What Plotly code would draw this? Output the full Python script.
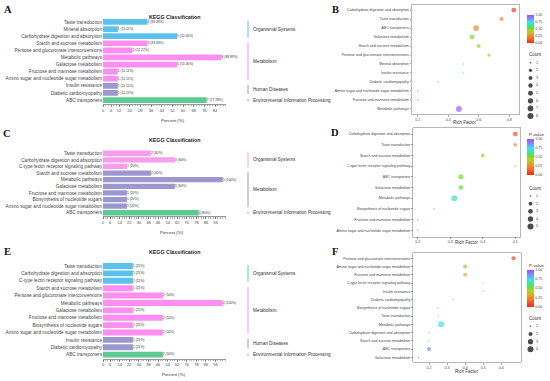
import plotly.graph_objects as go

ORG = "Organismal Systems"
MET = "Metabolism"
HUM = "Human Diseases"
ENV = "Environmental Information Processing"

# ---------------- Panel A (bar) ----------------
A_terms = ["Taste transduction", "Mineral absorption", "Carbohydrate digestion and absorption",
           "Starch and sucrose metabolism", "Pentose and glucuronate interconversions",
           "Metabolic pathways", "Galactose metabolism", "Fructose and mannose metabolism",
           "Amino sugar and nucleotide sugar metabolism", "Insulin resistance",
           "Diabetic cardiomyopathy", "ABC transporters"]
A_counts = [3, 1, 5, 3, 2, 8, 5, 1, 1, 1, 1, 7]
A_groups = [ORG, ORG, ORG, MET, MET, MET, MET, MET, MET, HUM, HUM, ENV]
A_total = 9
A_ticks = [0, 6, 12, 20, 28, 36, 44, 52, 60, 68, 76, 84]

# ---------------- Panel C (bar) ----------------
C_terms = ["Taste transduction", "Carbohydrate digestion and absorption",
           "C-type lectin receptor signaling pathway", "Starch and sucrose metabolism",
           "Metabolic pathways", "Galactose metabolism", "Fructose and mannose metabolism",
           "Biosynthesis of nucleotide sugars", "Amino sugar and nucleotide sugar metabolism",
           "ABC transporters"]
C_counts = [2, 3, 1, 2, 5, 3, 1, 1, 1, 4]
C_groups = [ORG, ORG, ORG, MET, MET, MET, MET, MET, MET, ENV]
C_total = 5
C_ticks = [0, 6, 14, 22, 30, 38, 46, 54, 62, 70, 78, 86, 94]

# ---------------- Panel E (bar) ----------------
E_terms = ["Taste transduction", "Carbohydrate digestion and absorption",
           "C-type lectin receptor signaling pathway", "Starch and sucrose metabolism",
           "Pentose and glucuronate interconversions", "Metabolic pathways",
           "Galactose metabolism", "Fructose and mannose metabolism",
           "Biosynthesis of nucleotide sugars", "Amino sugar and nucleotide sugar metabolism",
           "Insulin resistance", "Diabetic cardiomyopathy", "ABC transporters"]
E_counts = [1, 1, 1, 1, 2, 4, 1, 2, 1, 2, 1, 1, 2]
E_groups = [ORG, ORG, ORG, MET, MET, MET, MET, MET, MET, MET, HUM, HUM, ENV]
E_total = 4
E_ticks = [0, 6, 14, 22, 30, 38, 46, 54, 62, 70, 78, 86, 94]

# ---------------- Panel B (bubble) ----------------
B_terms = ["Carbohydrate digestion and absorption", "Taste transduction", "ABC transporters",
           "Galactose metabolism", "Starch and sucrose metabolism",
           "Pentose and glucuronate interconversions", "Mineral absorption", "Insulin resistance",
           "Diabetic cardiomyopathy", "Amino sugar and nucleotide sugar metabolism",
           "Fructose and mannose metabolism", "Metabolic pathways"]
B_rich = [0.83, 0.75, 0.583, 0.556, 0.60, 0.667, 0.50, 0.50, 0.333, 0.20, 0.20, 0.47]
B_count = [5, 3, 7, 5, 3, 2, 1, 1, 1, 1, 1, 8]
B_pvalue = [0.05, 0.24, 0.25, 0.50, 0.48, 0.44, 0.76, 0.76, 0.86, 0.97, 0.97, 0.96]
B_xticks = [0.2, 0.4, 0.6, 0.8]

# ---------------- Panel D (bubble) ----------------
D_terms = ["Carbohydrate digestion and absorption", "Taste transduction",
           "Starch and sucrose metabolism", "C-type lectin receptor signaling pathway",
           "ABC transporters", "Galactose metabolism", "Metabolic pathways",
           "Biosynthesis of nucleotide sugars", "Fructose and mannose metabolism",
           "Amino sugar and nucleotide sugar metabolism"]
D_rich = [0.5, 0.5, 0.4, 0.5, 0.333, 0.333, 0.3125, 0.25, 0.2, 0.2]
D_count = [3, 2, 2, 1, 4, 3, 5, 1, 1, 1]
D_pvalue = [0.10, 0.27, 0.46, 0.42, 0.51, 0.52, 0.67, 0.74, 0.80, 0.80]
D_xticks = [0.2, 0.3, 0.4, 0.5]

# ---------------- Panel F (bubble) ----------------
F_terms = ["Pentose and glucuronate interconversions", "Amino sugar and nucleotide sugar metabolism",
           "Fructose and mannose metabolism", "C-type lectin receptor signaling pathway",
           "Insulin resistance", "Diabetic cardiomyopathy", "Biosynthesis of nucleotide sugars",
           "Taste transduction", "Metabolic pathways", "Carbohydrate digestion and absorption",
           "Starch and sucrose metabolism", "ABC transporters", "Galactose metabolism"]
F_rich = [0.667, 0.4, 0.4, 0.5, 0.5, 0.333, 0.25, 0.25, 0.267, 0.2, 0.2, 0.2, 0.143]
F_count = [2, 2, 2, 1, 1, 1, 1, 1, 4, 1, 1, 2, 1]
F_pvalue = [0.05, 0.36, 0.36, 0.42, 0.42, 0.52, 0.65, 0.70, 0.74, 0.78, 0.77, 0.86, 0.91]
F_xticks = [0.2, 0.3, 0.4, 0.5, 0.6]

PV_ticks = [0.0, 0.25, 0.5, 0.75, 1.0]

# ---------------- styling ----------------
COL4 = {ORG: "#5BC2EE", MET: "#FF8EF2", HUM: "#9C98CF", ENV: "#5CCB92"}
COL3 = {ORG: "#F99CF0", MET: "#9C98CF", ENV: "#5CCB92"}
CS = [[0.0, "#F2291C"], [0.2, "#F07A2E"], [0.35, "#D8B22C"], [0.45, "#A8D62E"],
      [0.52, "#6ADE38"], [0.64, "#45E0A4"], [0.75, "#3EDFF0"], [0.87, "#7C8EF6"],
      [1.0, "#AA4EF6"]]
TXT = "#444444"

W, H = 550, 381


def fx(px):
    return px / W


def fy(py):
    return 1 - py / H


def axkey(i, a):
    return f"{a}axis" if i == 1 else f"{a}axis{i}"


def axref(i, a):
    return a if i == 1 else f"{a}{i}"


def fmt_pct(p):
    s = f"{p:.2f}".rstrip("0").rstrip(".")
    return s


fig = go.Figure()
layout = {}
shapes = []
annotations = []


def ann(text, x, y, size, color=TXT, xanchor="center", family=None, xref="paper", yref="paper"):
    d = dict(text=text, x=x, y=y, xref=xref, yref=yref, showarrow=False,
             xanchor=xanchor, yanchor="middle", font=dict(size=size, color=color))
    if family:
        d["font"]["family"] = family
    annotations.append(d)


def add_bar_panel(i, terms, counts, groups, total, colors, ticks, geo):
    n = len(terms)
    ys = list(range(n))
    pct = [c / total * 100 for c in counts]
    labels = [f"{c} ({fmt_pct(p)}%)" for c, p in zip(counts, pct)]
    xr, yr = axref(i, "x"), axref(i, "y")
    fig.add_trace(go.Bar(x=pct, y=ys, orientation="h", width=0.8,
                         marker=dict(color=[colors[g] for g in groups], line=dict(width=0)),
                         xaxis=xr, yaxis=yr, hoverinfo="skip"))
    fig.add_trace(go.Scatter(x=pct, y=ys, mode="text", text=labels, textposition="middle right",
                             textfont=dict(size=3.3, color="#333"), xaxis=xr, yaxis=yr,
                             cliponaxis=False, hoverinfo="skip"))
    layout[axkey(i, "x")] = dict(
        domain=[fx(geo["x0"]), fx(geo["x1"])], range=[0, geo["xmax"]],
        tickmode="array", tickvals=ticks, ticks="outside", ticklen=2, tickwidth=0.5,
        tickcolor="#333", showline=True, linecolor="#333", linewidth=0.5, showgrid=False,
        zeroline=False, tickfont=dict(size=4, color=TXT), anchor=yr, fixedrange=True,
        minor=dict(dtick=2, tick0=0, ticks="outside", ticklen=1.3, tickwidth=0.4,
                   tickcolor="#333", showgrid=False))
    layout[axkey(i, "y")] = dict(
        domain=[fy(geo["bot"]), fy(geo["top"])], range=[n - 1 + 0.6, -0.6],
        tickmode="array", tickvals=ys, ticktext=terms, showgrid=False, zeroline=False,
        showline=False, ticks="", tickfont=dict(size=4.7, color=TXT), anchor=xr,
        fixedrange=True)
    # group brackets
    start = 0
    for k in range(1, n + 1):
        if k == n or groups[k] != groups[start]:
            g = groups[start]
            a, b = start, k - 1
            shapes.append(dict(type="line", xref="paper", yref=yr, x0=fx(248), x1=fx(248),
                               y0=a - 0.15, y1=b + 0.15, line=dict(color=colors[g], width=1)))
            ann(g, fx(250.5), (a + b) / 2, 4.6, color="#333", xanchor="left", yref=yr)
            start = k
    ann("<b>KEGG Classification</b>", fx(175), fy(geo["title_y"]), 5.3, color="#222")
    ann("Percent (%)", fx(geo["xlab_x"]), fy(geo["xlab_y"]), 4.4, color="#333")


def size_of(c, cmax):
    return 1.6 + 4.4 * ((c - 1) / (cmax - 1)) ** 0.5


LEG = 7  # overlay axis index for legend keys


def add_bubble_panel(i, terms, rich, count, pval, xticks, geo):
    n = len(terms)
    ys = list(range(n))
    cmax = max(count)
    xr, yr = axref(i, "x"), axref(i, "y")
    cb = dict(x=fx(527.3), xanchor="left", xpad=0, y=fy(geo["cb_c"]), yanchor="middle",
              ypad=0, len=geo["cb_len"], lenmode="pixels", thickness=7,
              thicknessmode="pixels", outlinewidth=0, tickmode="array", tickvals=PV_ticks,
              ticktext=[f"{v:.2f}" for v in PV_ticks], ticks="",
              tickfont=dict(size=3.6, color=TXT))
    fig.add_trace(go.Scatter(
        x=rich, y=ys, mode="markers", xaxis=xr, yaxis=yr, cliponaxis=False, hoverinfo="skip",
        marker=dict(size=[size_of(c, cmax) for c in count], color=pval, cmin=0, cmax=1,
                    colorscale=CS, showscale=True, line=dict(width=0), colorbar=cb)))
    frame = dict(showline=True, mirror=True, linecolor="#9A9A9A", linewidth=0.7,
                 showgrid=False, zeroline=False, ticks="outside", ticklen=1.5,
                 tickwidth=0.5, tickcolor="#555", fixedrange=True)
    layout[axkey(i, "x")] = dict(
        domain=[fx(geo["x0"]), fx(geo["x1"])], range=geo["xr"], tickmode="array",
        tickvals=xticks, ticktext=[f"{v:.1f}" for v in xticks],
        tickfont=dict(size=3.6, color=TXT), anchor=yr, **frame)
    layout[axkey(i, "y")] = dict(
        domain=[fy(geo["bot"]), fy(geo["top"])], range=[n - 1 + 0.6, -0.6],
        tickmode="array", tickvals=ys, ticktext=terms,
        tickfont=dict(size=3.6, color=TXT), anchor=xr, **frame)
    ann("Rich Factor", fx((geo["x0"] + geo["x1"]) / 2), fy(geo["xlab_y"]), 4.5, color="#333")
    if geo.get("pv_title"):
        ann("P-value", fx(526.5), fy(geo["pv_y"]), 4.4, color="#333", xanchor="left")
    # size legend (Count)
    leg_counts = list(range(1, cmax + 1))
    ly = [geo["leg_y0"] + k * geo["leg_step"] for k in range(len(leg_counts))]
    fig.add_trace(go.Scatter(
        x=[530.5] * len(leg_counts), y=ly, mode="markers", xaxis=axref(LEG, "x"),
        yaxis=axref(LEG, "y"), hoverinfo="skip", cliponaxis=False,
        marker=dict(size=[size_of(c, cmax) for c in leg_counts], color="#000000",
                    line=dict(width=0))))
    fig.add_trace(go.Scatter(
        x=[536] * len(leg_counts), y=ly, mode="text", text=[str(c) for c in leg_counts],
        textposition="middle right", textfont=dict(size=3.6, color=TXT),
        xaxis=axref(LEG, "x"), yaxis=axref(LEG, "y"), hoverinfo="skip", cliponaxis=False))
    ann("Count", fx(526.5), fy(geo["leg_y0"] - 7.8), 4.5, color="#333", xanchor="left")


add_bar_panel(1, A_terms, A_counts, A_groups, A_total, COL4, A_ticks,
              dict(x0=103, x1=225.7, xmax=92, top=17.7, bot=104.3, title_y=16.5,
                   xlab_x=173, xlab_y=120.3))
add_bar_panel(2, C_terms, C_counts, C_groups, C_total, COL3, C_ticks,
              dict(x0=103, x1=226.3, xmax=103, top=149.3, bot=216.7, title_y=140,
                   xlab_x=172, xlab_y=232.3))
add_bar_panel(3, E_terms, E_counts, E_groups, E_total, COL4, E_ticks,
              dict(x0=103, x1=226.3, xmax=103, top=261.6, bot=359.1, title_y=251.5,
                   xlab_x=174, xlab_y=374.8))

add_bubble_panel(4, B_terms, B_rich, B_count, B_pvalue, B_xticks,
                 dict(x0=411.7, x1=519, xr=[0.161, 0.864], top=4.7, bot=114.3, xlab_y=122.3,
                      cb_c=28.7, cb_len=28, pv_title=False, leg_y0=62.7, leg_step=7.62))
add_bubble_panel(5, D_terms, D_rich, D_count, D_pvalue, D_xticks,
                 dict(x0=413.3, x1=520, xr=[0.1865, 0.5145], top=127.7, bot=236.7,
                      xlab_y=242.7, cb_c=157, cb_len=36, pv_title=True, pv_y=134,
                      leg_y0=196, leg_step=7.65))
add_bubble_panel(6, F_terms, F_rich, F_count, F_pvalue, F_xticks,
                 dict(x0=413.3, x1=520.7, xr=[0.113, 0.707], top=253.3, bot=362.3,
                      xlab_y=371, cb_c=288, cb_len=37.4, pv_title=True, pv_y=265,
                      leg_y0=326.3, leg_step=7.67))

# overlay axis (pixel coordinates) for legend keys
layout[axkey(LEG, "x")] = dict(domain=[0, 1], range=[0, W], visible=False, fixedrange=True,
                               anchor=axref(LEG, "y"))
layout[axkey(LEG, "y")] = dict(domain=[0, 1], range=[H, 0], visible=False, fixedrange=True,
                               anchor=axref(LEG, "x"))

# panel letters
for letter, (lx, ly) in {"A": (7.5, 9.5), "B": (335, 9.5), "C": (7, 133.3),
                         "D": (335, 132.5), "E": (7, 251.5), "F": (335, 251.5)}.items():
    ann(f"<b>{letter}</b>", fx(lx), fy(ly), 10.5, color="#111", family="Liberation Serif")

fig.update_layout(
    width=W, height=H, margin=dict(l=0, r=0, t=0, b=0), autosize=False,
    paper_bgcolor="white", plot_bgcolor="rgba(0,0,0,0)", showlegend=False,
    font=dict(family="Liberation Sans", color=TXT),
    shapes=shapes, annotations=annotations, **layout)

fig.write_html("out.html", config={"displayModeBar": False, "staticPlot": True},
               post_script="document.body.style.margin='0';document.body.style.overflow='hidden';")
